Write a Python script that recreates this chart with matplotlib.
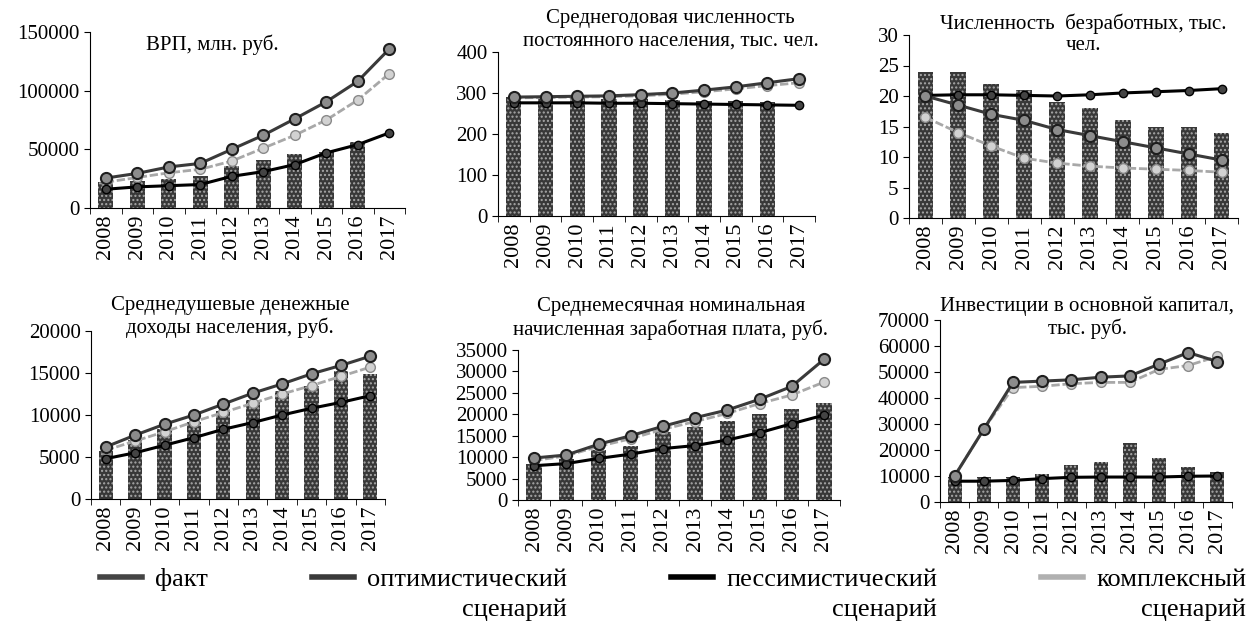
import matplotlib.pyplot as plt
import numpy as np
from matplotlib.lines import Line2D
from matplotlib.transforms import IdentityTransform

plt.rcParams['font.family'] = ['Liberation Serif', 'DejaVu Serif']
plt.rcParams['hatch.color'] = '#a8a8a8'
plt.rcParams['hatch.linewidth'] = 1.0

years = ['2008', '2009', '2010', '2011', '2012', '2013', '2014', '2015', '2016', '2017']
nan = np.nan

# ВРП, млн. руб.
grp_fact = [22000, 23000, 25000, 27000, 36000, 41000, 46000, 48000, 56000, nan]
grp_opt = [25500, 29500, 35000, 38000, 50000, 62000, 76000, 90500, 108000, 135500]
grp_pess = [16000, 18000, 19000, 20000, 27000, 31000, 37000, 47000, 54000, 64000]
grp_comp = [22000, 26000, 30000, 33000, 40000, 51000, 62000, 75000, 92000, 114500]

# численность населения, тыс. чел.
pop_fact = [290, 288, 287, 286, 285, 283, 281, 280, 279, nan]
pop_opt = [290, 291, 292, 293, 296, 300, 307, 315, 325, 335]
pop_pess = [276, 276, 276, 275, 275, 274, 273, 272, 271, 270]
pop_comp = [288, 289, 290, 291, 293, 297, 303, 310, 318, 325]

# безработные, тыс. чел.
unemp_fact = [24, 24, 22, 21, 19, 18, 16, 15, 15, 14]
unemp_opt = [20, 18.5, 17, 16, 14.5, 13.5, 12.5, 11.5, 10.5, 9.5]
unemp_pess = [20.1, 20.2, 20.2, 20.1, 20.0, 20.2, 20.5, 20.7, 20.9, 21.2]
unemp_comp = [16.5, 14, 11.8, 9.8, 9.0, 8.5, 8.2, 8.0, 7.8, 7.5]

# денежные доходы, руб.
inc_fact = [5700, 7000, 8300, 9200, 10500, 11800, 12800, 13500, 15200, 14900]
inc_opt = [6200, 7600, 8900, 10000, 11300, 12600, 13700, 14900, 15900, 17000]
inc_pess = [4800, 5500, 6400, 7300, 8300, 9100, 10000, 10800, 11500, 12300]
inc_comp = [5800, 6900, 8000, 9200, 10300, 11400, 12500, 13500, 14600, 15700]

# заработная плата, руб.
wage_fact = [8500, 9500, 11700, 12700, 15800, 17000, 18500, 20000, 21200, 22700]
wage_opt = [9800, 10500, 13000, 15000, 17200, 19200, 21000, 23500, 26500, 32800]
wage_pess = [8000, 8500, 9700, 10700, 12000, 12700, 14000, 15700, 17800, 19800]
wage_comp = [9200, 10300, 12500, 14300, 16500, 18300, 20200, 22500, 24500, 27500]

# инвестиции, тыс. руб.
inv_fact = [9500, 9600, 9600, 10800, 14100, 15400, 22700, 17000, 13500, 11500]
inv_opt = [10000, 28000, 46000, 46500, 47000, 48000, 48500, 53000, 57500, 54000]
inv_pess = [8000, 8000, 8300, 9000, 9500, 9600, 9600, 9600, 9900, 10000]
inv_comp = [10000, 28000, 44000, 44500, 45500, 46000, 46000, 51000, 52500, 56000]

titles = ['ВРП, млн. руб.',
          'Среднегодовая численность\nпостоянного населения, тыс. чел.',
          'Численность  безработных, тыс.\nчел.',
          'Среднедушевые денежные\nдоходы населения, руб.',
          'Среднемесячная номинальная\nначисленная заработная плата, руб.',
          'Инвестиции в основной капитал,\nтыс. руб.']

series = [(grp_fact, grp_opt, grp_pess, grp_comp),
          (pop_fact, pop_opt, pop_pess, pop_comp),
          (unemp_fact, unemp_opt, unemp_pess, unemp_comp),
          (inc_fact, inc_opt, inc_pess, inc_comp),
          (wage_fact, wage_opt, wage_pess, wage_comp),
          (inv_fact, inv_opt, inv_pess, inv_comp)]

yticks = [np.arange(0, 150001, 50000), np.arange(0, 401, 100), np.arange(0, 31, 5),
          np.arange(0, 20001, 5000), np.arange(0, 35001, 5000), np.arange(0, 70001, 10000)]

# положение осей в пикселях: left, top, right, bottom
boxes = [(90, 32, 405, 208), (498, 52, 815, 216), (909, 35, 1238, 218),
         (91, 331, 385, 499), (518, 350, 840, 500), (940, 320, 1232, 502)]
# положение заголовков (доли осей)
title_pos = [(0.387, 0.985), (0.545, 1.26), (0.53, 1.12),
             (0.473, 1.21), (0.475, 1.35), (0.505, 1.13)]

W, H = 1246, 632
fig = plt.figure(figsize=(W / 100, H / 100), dpi=100)

x = np.arange(len(years))
for i in range(6):
    l, t, r, b = boxes[i]
    ax = fig.add_axes([l / W, 1 - b / H, (r - l) / W, (b - t) / H])
    fact, opt, pess, comp = series[i]
    ax.bar(x, fact, 0.48, color='#383838', hatch='....', zorder=1)
    ax.plot(x, comp, color='#a8a8a8', lw=2, ls=(0, (3, 1)), marker='o', ms=7,
            mfc='#d2d2d2', mec='#8a8a8a', zorder=3)
    ax.plot(x, pess, color='black', lw=2.2, marker='o', ms=6,
            mfc='#444444', mec='black', zorder=4)
    ax.plot(x, opt, color='#3a3a3a', lw=2.2, marker='o', ms=8,
            mfc='#8c8c8c', mec='#1e1e1e', mew=1.5, zorder=5)

    ax.set_xlim(-0.5, 9.5)
    ax.set_ylim(0, yticks[i][-1])
    ax.set_yticks(yticks[i])
    ax.set_xticks(x)
    ax.set_xticklabels(years, rotation=90)
    ax.set_xticks(np.arange(-0.5, 10, 1), minor=True)
    ax.tick_params(axis='x', which='major', length=0, labelsize=16, pad=5)
    ax.tick_params(axis='x', which='minor', length=4)
    ax.tick_params(axis='y', labelsize=15, length=4)
    for s in ['top', 'right']:
        ax.spines[s].set_visible(False)
    ax.set_facecolor('none')

    tx, ty = title_pos[i]
    ax.text(tx, ty, titles[i], transform=ax.transAxes, ha='center', va='top',
            fontsize=15, linespacing=1.2)

handles = [Line2D([], [], color='#444444', lw=4),
           Line2D([], [], color='#3a3a3a', lw=4),
           Line2D([], [], color='black', lw=4),
           Line2D([], [], color='#b0b0b0', lw=4)]
labels = ['факт', 'оптимистический', 'пессимистический', 'комплексный']
leg = fig.legend(handles, labels, ncol=4, loc='lower left', mode='expand',
                 bbox_to_anchor=(100 / W, 0.065, (W - 100) / W, 0.06),
                 frameon=False, fontsize=19, handlelength=1.6, handletextpad=0.5,
                 borderaxespad=0, borderpad=0)

fig.canvas.draw()
for txt in leg.get_texts()[1:]:
    bb = txt.get_window_extent()
    fig.text(bb.x1, bb.y0 - 8, 'сценарий', transform=IdentityTransform(),
             ha='right', va='top', fontsize=19)

fig.savefig('out.png', dpi=100)
